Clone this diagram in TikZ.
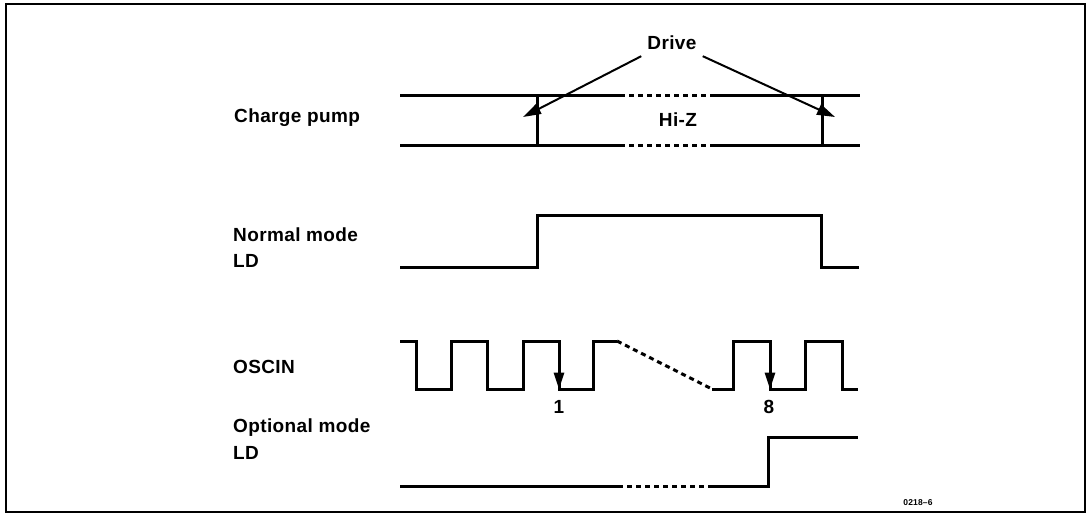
\documentclass[tikz,border=0pt]{standalone}
\usepackage{fontspec}
\setmainfont{Liberation Sans}[LetterSpace=2]
\usetikzlibrary{arrows.meta}
\begin{document}
\begin{tikzpicture}[x=1pt,y=-1pt,
  wave/.style={line width=3pt, line join=miter},
  dsh/.style={line width=3pt, dash pattern=on 5pt off 4pt},
  lbl/.style={font=\fontsize{19}{22}\selectfont\bfseries, anchor=base west, inner sep=0pt},
  txt/.style={font=\fontsize{19}{22}\selectfont\bfseries, inner sep=0pt},
  drv/.style={line width=2pt, -{Triangle[length=18pt,width=11pt]}},
  tip/.style={line width=3pt, -{Triangle[length=17pt,width=10pt]}}]
\path[use as bounding box] (0,0) rectangle (1088,516);
\draw[line width=2pt] (6,4) rectangle (1085,512);

% labels
\node[lbl] (cp) at (234,122.7) {Charge pump};
\node[lbl] (nm) at (233,241) {Normal mode};
\node[lbl] (nld) at (233,267) {LD};
\node[lbl] (osc) at (233,373) {OSCIN};
\node[lbl] (om) at (233,432) {Optional mode};
\node[lbl] (old) at (233,459) {LD};
\node[txt, inner sep=6pt] (drive) at (672,43) {Drive};
\node[txt] (hiz) at (678,120) {Hi-Z};
\node[txt] (one) at (559,407) {1};
\node[txt] (eight) at (769,407) {8};
\node[font=\fontsize{8.5}{9}\selectfont\bfseries, inner sep=0pt] (code) at (918,503) {0218--6};

% charge pump
\draw[wave] (400,96) -- (620,96);
\draw[dsh] (620,96) -- (713,96);
\draw[wave] (713,96) -- (860,96);
\draw[wave] (400,146) -- (620,146);
\draw[dsh] (620,146) -- (713,146);
\draw[wave] (713,146) -- (860,146);
\draw[wave] (537,96) -- (537,146);
\draw[wave] (822,96) -- (822,146);
\coordinate (dl) at (523,117);
\coordinate (dr) at (835,117);
\draw[drv] (drive.south west) -- (dl);
\draw[drv] (drive.south east) -- (dr);

% normal mode LD
\draw[wave] (400,267) -- (537,267) -- (537,216) -- (821,216) -- (821,267) -- (859,267);

% OSCIN
\draw[wave] (400,341) -| (416,389) -| (451,341) -| (487,389) -| (523,341) -| (559,389) -| (593,341) -- (617,341);
\draw[dsh] (617,341) -- (712,389);
\draw[wave] (712,389) -| (733,341) -| (770,389) -| (805,341) -| (842,389) -- (858,389);
\draw[tip] (559,355) -- (559,389.5);
\draw[tip] (770,355) -- (770,389.5);

% optional mode LD
\draw[wave] (400,486) -- (618,486);
\draw[dsh] (618,486) -- (712,486);
\draw[wave] (712,486) -| (768,437) -- (858,437);
\end{tikzpicture}
\end{document}
